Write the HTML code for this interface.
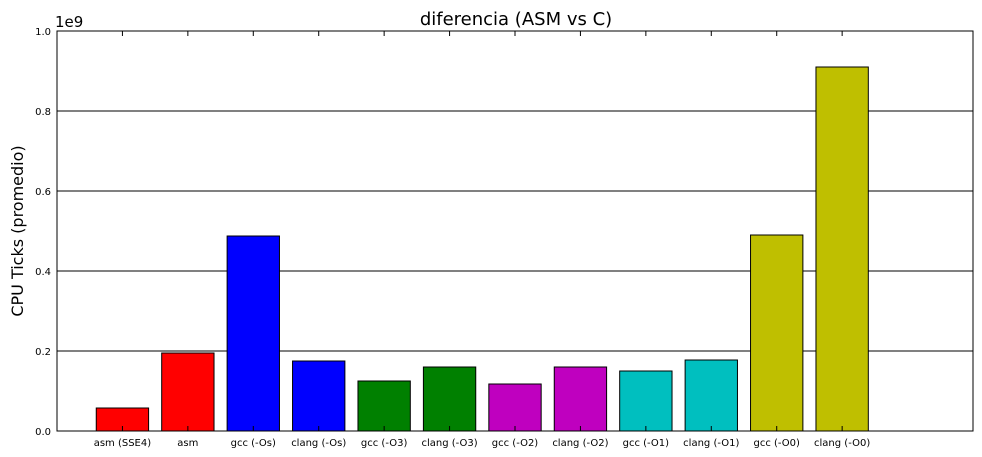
<!DOCTYPE html>
<html><head><meta charset="utf-8">
<style>
body{margin:0;background:#fff;}
svg{display:block;font-family:"DejaVu Sans","Liberation Sans",sans-serif;}
</style></head>
<body>
<svg id="chart" width="982" height="457">
<rect x="0" y="0" width="982" height="457" fill="#fff"/>
<text x="516" y="25" font-size="18" text-anchor="middle">diferencia (ASM vs C)</text>
<text x="55" y="27" font-size="15">1e9</text>
<text transform="translate(23,231) rotate(-90)" font-size="16" text-anchor="middle">CPU Ticks (promedio)</text>
<g id="grid"></g><g id="bars"></g><g id="axes"></g>
</svg>
<script>
const categories=["asm (SSE4)","asm","gcc (-Os)","clang (-Os)","gcc (-O3)","clang (-O3)","gcc (-O2)","clang (-O2)","gcc (-O1)","clang (-O1)","gcc (-O0)","clang (-O0)"];
const values=[0.0575,0.195,0.4875,0.175,0.125,0.16,0.1175,0.16,0.15,0.1775,0.49,0.91];
const colors=["#ff0000","#ff0000","#0000ff","#0000ff","#008000","#008000","#bf00bf","#bf00bf","#00bfbf","#00bfbf","#bfbf00","#bfbf00"];
const yTicks=[0,0.2,0.4,0.6,0.8,1.0];
const yTickLabels=["0.0","0.2","0.4","0.6","0.8","1.0"];
const L=57,R=973,T=31,B=431,xMax=14,yMax=1.0;
const NS="http://www.w3.org/2000/svg";
const xs=v=>L+(v/xMax)*(R-L);
const ys=v=>B-(v/yMax)*(B-T);
function mk(tag,attrs,parent){const e=document.createElementNS(NS,tag);for(const k in attrs)e.setAttribute(k,attrs[k]);document.getElementById(parent).appendChild(e);return e;}
yTicks.forEach((t,i)=>{
  if(t>0&&t<yMax){const g=mk("line",{x1:L,x2:R,y1:ys(t),y2:ys(t),stroke:"#000","stroke-width":1},"grid");
  
  }
  const tk=mk("line",{x1:L,x2:L+5,y1:ys(t),y2:ys(t),stroke:"#000"},"axes");
  
  
  const tk2=mk("line",{x1:R-5,x2:R,y1:ys(t),y2:ys(t),stroke:"#000"},"axes");
  
  
  const lb=mk("text",{x:L-6,y:ys(t)+4,"font-size":10,"text-anchor":"end"},"axes");
  lb.textContent=yTickLabels[i];
  
  
});
categories.forEach((c,i)=>{
  const cx=xs(i+1),w=xs(0.8)-xs(0);
  const r=mk("rect",{x:cx-w/2,y:ys(values[i]),width:w,height:ys(0)-ys(values[i]),fill:colors[i],stroke:"#000","stroke-width":1},"bars");
  
  
  const tk=mk("line",{x1:cx,x2:cx,y1:B,y2:B-5,stroke:"#000"},"axes");
  
  
  const tk2=mk("line",{x1:cx,x2:cx,y1:T,y2:T+5,stroke:"#000"},"axes");
  
  
  const lb=mk("text",{x:cx,y:B+15,"font-size":10,"text-anchor":"middle"},"axes");
  lb.textContent=c;
  
  
});
const f=mk("rect",{x:L,y:T,width:R-L,height:B-T,fill:"none",stroke:"#000","stroke-width":1},"axes");


</script>
</body></html>
